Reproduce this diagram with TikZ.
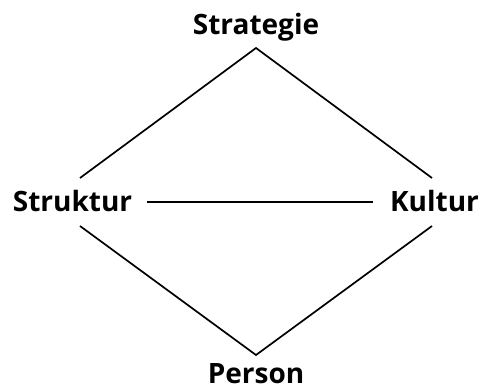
\documentclass[tikz,border=0pt]{standalone}
\usepackage{fontspec}
\setmainfont{Open Sans}
\tikzset{
	label/.style={font=\bfseries\fontsize{28}{32}\selectfont, inner sep=0pt, anchor=base},
	edge/.style={line width=1.7pt}
}
\begin{document}
\begin{tikzpicture}[x=1pt,y=-1pt]
		\useasboundingbox (0,0) rectangle (481,391);
		\node[label] (strategie) at (256,34) {Strategie};
		\node[label] (person) at (256,383) {Person};
		\node[label] (struktur) at (72.5,211) {Struktur};
		\node[label] (kultur) at (434.5,211) {Kultur};
		\coordinate (top) at (256,48);
		\coordinate (bot) at (256,355);
		\coordinate (lu) at (80,178);
		\coordinate (ll) at (80,226);
		\coordinate (ru) at (432,178);
		\coordinate (rl) at (432,226);
		\draw[edge] (lu)--(top)--(ru);
		\draw[edge] (ll)--(bot)--(rl);
		\draw[edge,shorten <=15pt,shorten >=17pt] (struktur.east|-0,202)--(kultur.west|-0,202);
	\end{tikzpicture}
\end{document}
